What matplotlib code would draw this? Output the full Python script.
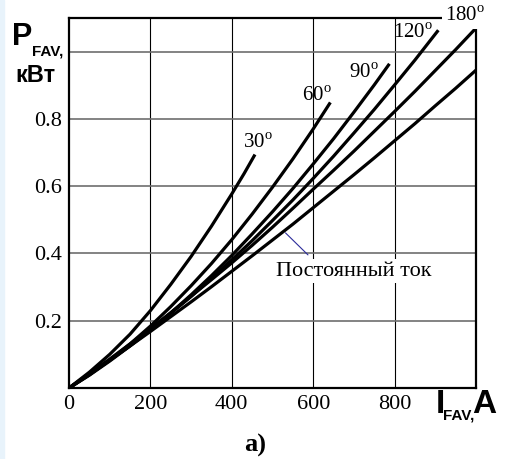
import matplotlib
matplotlib.use("Agg")
import matplotlib.pyplot as plt
from matplotlib.patches import Rectangle

plt.rcParams['mathtext.fontset'] = 'custom'
plt.rcParams['mathtext.rm'] = 'Liberation Serif'

# средний ток, А  /  средняя мощность потерь, кВт
i_30 = [0, 50, 100, 150, 200, 250, 300, 350, 400, 430, 455]
p_30 = [0, 0.047, 0.100, 0.160, 0.230, 0.308, 0.391, 0.481, 0.577, 0.637, 0.69]

i_60 = [0, 50, 100, 150, 200, 250, 300, 350, 400, 450, 500, 550, 600, 640]
p_60 = [0, 0.039, 0.083, 0.131, 0.184, 0.242, 0.304, 0.370, 0.441, 0.517,
        0.597, 0.681, 0.770, 0.845]

i_90 = [0, 50, 100, 150, 200, 250, 300, 350, 400, 450, 500, 550, 600, 650,
        700, 750, 785]
p_90 = [0, 0.038, 0.080, 0.125, 0.172, 0.223, 0.277, 0.334, 0.394, 0.458,
        0.524, 0.593, 0.666, 0.741, 0.820, 0.901, 0.96]

i_120 = [0, 50, 100, 150, 200, 250, 300, 350, 400, 450, 500, 550, 600, 650,
         700, 750, 800, 850, 905]
p_120 = [0, 0.040, 0.082, 0.126, 0.173, 0.222, 0.272, 0.326, 0.381, 0.438,
         0.498, 0.559, 0.623, 0.689, 0.758, 0.828, 0.901, 0.975, 1.06]

i_180 = [0, 50, 100, 150, 200, 250, 300, 350, 400, 450, 500, 550, 600, 650,
         700, 750, 800, 850, 900, 950, 1000]
p_180 = [0, 0.043, 0.086, 0.131, 0.177, 0.224, 0.273, 0.322, 0.372, 0.424,
         0.478, 0.534, 0.591, 0.647, 0.704, 0.763, 0.822, 0.882, 0.944,
         1.006, 1.07]

i_dc = [0, 50, 100, 150, 200, 250, 300, 350, 400, 450, 500, 550, 600, 650,
        700, 750, 800, 850, 900, 950, 1000]
p_dc = [0, 0.041, 0.083, 0.125, 0.168, 0.212, 0.256, 0.301, 0.347, 0.393,
        0.440, 0.487, 0.536, 0.585, 0.634, 0.684, 0.735, 0.786, 0.839,
        0.891, 0.945]

x_ticks = [0, 200, 400, 600, 800, 1000]
x_labels = ['0', '200', '400', '600', '800', '']
y_ticks = [0.2, 0.4, 0.6, 0.8, 1.0]
y_labels = ['0.2', '0.4', '0.6', '0.8', '']

W, H = 506, 459
fig = plt.figure(figsize=(W / 100, H / 100), dpi=100)
fig.patches.append(Rectangle((0, 0), 4 / W, 1, transform=fig.transFigure,
                             color='#e8f3fb', zorder=0))
ax = fig.add_axes([69 / W, 1 - 388 / H, (476 - 69) / W, (388 - 18) / H])

for xx in x_ticks[1:-1]:
    ax.axvline(xx, color='black', lw=0.8, zorder=1)
for yy in y_ticks:
    ax.axhline(yy, color='#6e6e6e', lw=1.2, zorder=1)

for ii, pp in [(i_30, p_30), (i_60, p_60), (i_90, p_90),
               (i_120, p_120), (i_180, p_180), (i_dc, p_dc)]:
    ax.plot(ii, pp, color='black', lw=2.3, zorder=4, solid_joinstyle='round')

ax.set_xlim(0, 1000)
ax.set_ylim(0, 1.1)
ax.set_xticks(x_ticks)
ax.set_xticklabels(x_labels)
ax.set_yticks(y_ticks)
ax.set_yticklabels(y_labels)
ax.tick_params(length=0, labelsize=16, pad=5)
for lab in ax.get_xticklabels() + ax.get_yticklabels():
    lab.set_family('Liberation Serif')
for sp in ax.spines.values():
    sp.set_linewidth(1.6)

serif = dict(family='Liberation Serif', fontsize=15, va='baseline', ha='left')
ax.text(427, 0.713, r'30$^{\mathrm{o}}$', **serif)
ax.text(572, 0.854, r'60$^{\mathrm{o}}$', **serif)
ax.text(688, 0.922, r'90$^{\mathrm{o}}$', **serif)
ax.text(796, 1.042, r'120$^{\mathrm{o}}$', **serif)
ax.text(924, 1.090, r'180$^{\mathrm{o}}$', clip_on=False, zorder=6,
        bbox=dict(fc='white', ec='none', pad=2), **serif)

ax.annotate('', xy=(527, 0.467), xytext=(592, 0.39),
            arrowprops=dict(arrowstyle='-', color='#2b2b9a', lw=0.8), zorder=5)
ax.text(509, 0.334, 'Постоянный ток', zorder=5,
        bbox=dict(fc='white', ec='none', pad=2),
        **{**serif, 'fontsize': 16})

bold = dict(family='Liberation Sans', weight='bold', va='baseline', ha='left')
fig.text(12 / W, 1 - 45 / H, 'P', fontsize=22, **bold)
fig.text(32 / W, 1 - 56 / H, 'FAV,', fontsize=11, **bold)
fig.text(15 / W, 1 - 82 / H, 'кВт', fontsize=17, **bold)
fig.text(436 / W, 1 - 413 / H, 'I', fontsize=24, **bold)
fig.text(443 / W, 1 - 419 / H, 'FAV,', fontsize=11, **bold)
fig.text(472 / W, 1 - 413 / H, 'A', fontsize=24, **bold)
fig.text(255 / W, 1 - 452 / H, 'a)', family='Liberation Serif', weight='bold',
         fontsize=19, ha='center', va='baseline')

fig.savefig('out.png', dpi=100, facecolor='white')
